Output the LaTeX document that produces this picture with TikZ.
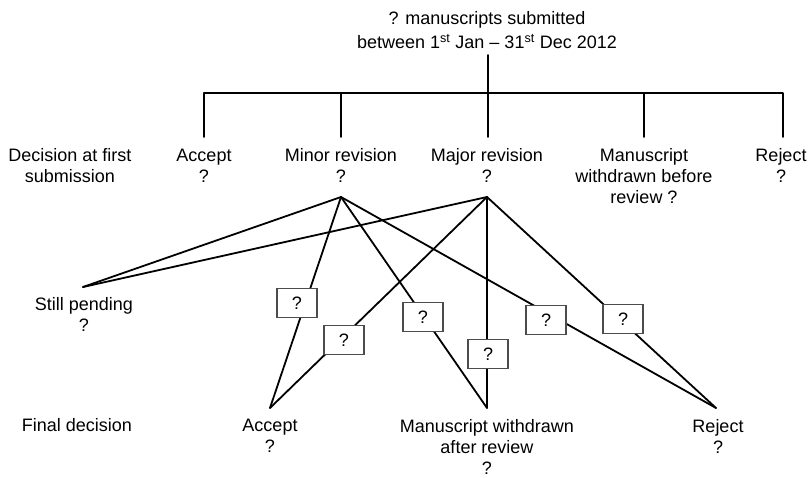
\documentclass[tikz,border=0pt]{standalone}
\usepackage{fontspec}
\setmainfont{Liberation Sans}
\begin{document}
\begin{tikzpicture}[x=1pt,y=-1pt,
  lbl/.style={align=center, font=\fontsize{18}{21}\selectfont, inner sep=0pt},
  qbox/.style={draw=black!70, line width=1.3pt, fill=white, minimum width=40pt, minimum height=29pt, inner sep=0pt, font=\fontsize{18}{21}\selectfont},
  link/.style={line width=1.8pt, line cap=round, line join=round}]
\useasboundingbox (0,0) rectangle (811,478);

% texts
\node[lbl] (top) at (487,30) {? manuscripts submitted\\[3pt]between 1\textsuperscript{st} Jan -- 31\textsuperscript{st} Dec 2012};
\node[lbl] (dec1) at (70,165.5) {Decision at first\\submission};
\node[lbl] (acc1) at (204,165.5) {Accept\\?};
\node[lbl] (min1) at (341,165.5) {Minor revision\\?};
\node[lbl] (maj1) at (487,165.5) {Major revision\\?};
\node[lbl] (wd1) at (644,176) {Manuscript\\withdrawn before\\review ?};
\node[lbl] (rej1) at (781,165.5) {Reject\\?};
\node[lbl] (pend) at (84,314.5) {Still pending\\?};
\node[lbl] (fin) at (77,425) {Final decision};
\node[lbl] (acc2) at (270,436) {Accept\\?};
\node[lbl] (wd2) at (487,446.5) {Manuscript withdrawn\\after review\\?};
\node[lbl] (rej2) at (718,436) {Reject\\?};

% tree at top
\coordinate (topend) at (488,55);
\foreach \n/\x in {a/204,b/341,c/488,d/644,e/783}{
  \coordinate (u\n) at (\x,93);
  \coordinate (l\n) at (\x,137);
}
\draw[link] (topend) -- (uc);
\draw[link] (la) -- (ua) -- (ue) -- (le);
\foreach \n in {b,c,d} \draw[link] (u\n) -- (l\n);

% hubs and end points
\coordinate (hmin) at (341,197);
\coordinate (hmaj) at (487,197);
\coordinate (pendpt) at (83,287);
\coordinate (accpt) at (270,408);
\coordinate (wdpt) at (487,408);
\coordinate (rejpt) at (716,408);

\foreach \h in {hmin,hmaj}
  \foreach \e in {pendpt,accpt,wdpt,rejpt}
    \draw[link] (\h) -- (\e);

% boxes
\node[qbox] (qA1) at (297,303) {?};
\node[qbox] (qA2) at (344,340) {?};
\node[qbox] (qW1) at (423,317) {?};
\node[qbox] (qW2) at (488,354) {?};
\node[qbox] (qR1) at (546,320) {?};
\node[qbox] (qR2) at (623,319) {?};
\end{tikzpicture}
\end{document}
